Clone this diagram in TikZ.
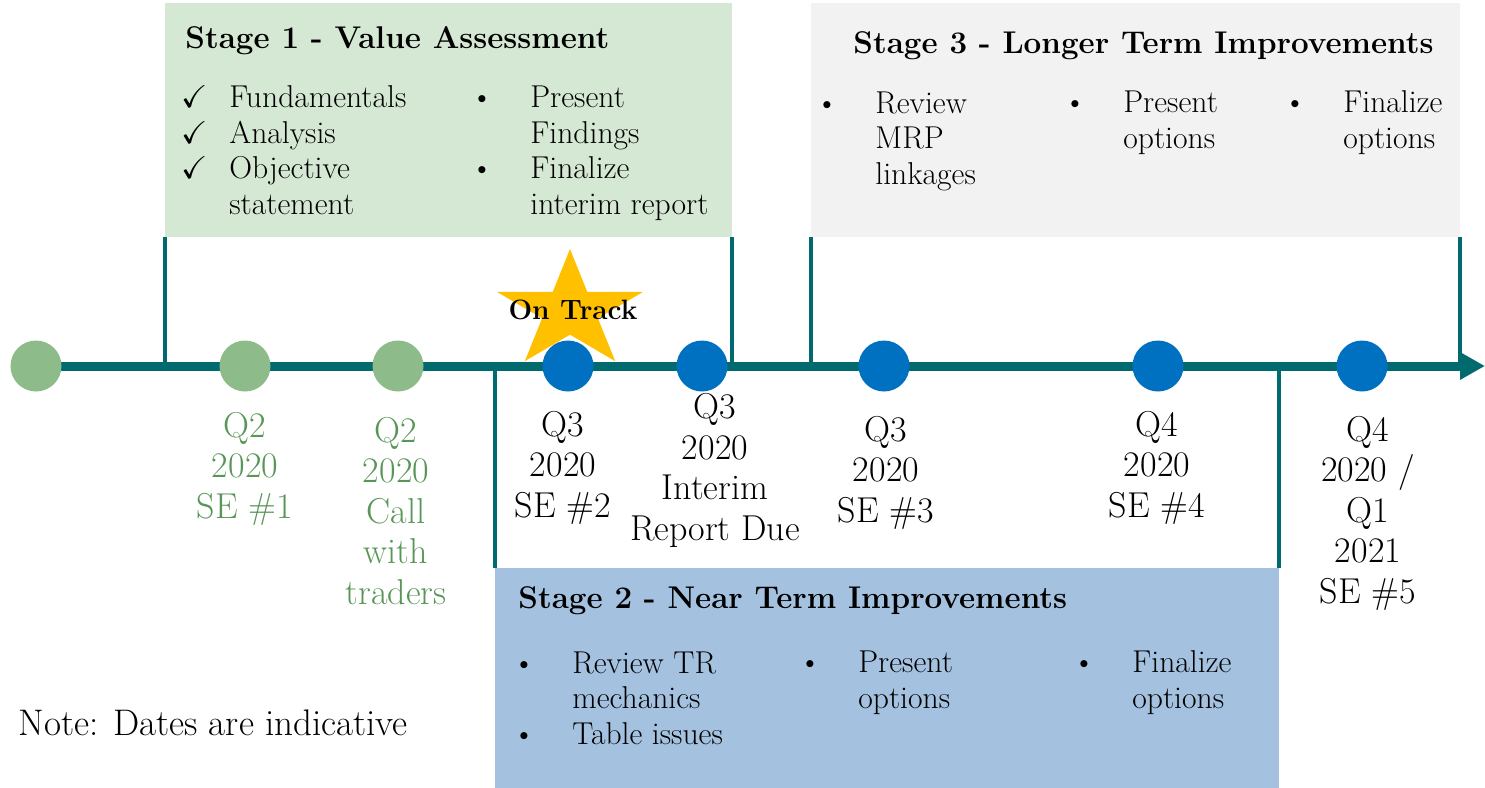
\documentclass[tikz,border=0pt]{standalone}
\usepackage{amssymb}
\usepackage{xcolor}
\usepackage{tikz}
\usetikzlibrary{calc, fit, shapes.geometric, arrows.meta}
\definecolor{lineteal}{RGB}{0,106,110}
\definecolor{dotgreen}{RGB}{141,187,138}
\definecolor{textgreen}{RGB}{88,150,88}
\definecolor{dotblue}{RGB}{0,112,192}
\definecolor{starfill}{RGB}{255,192,0}
\definecolor{stageone}{RGB}{213,232,212}
\definecolor{stagetwo}{RGB}{164,194,224}
\definecolor{stagethree}{RGB}{242,242,242}
\tikzstyle{axis}    = [line width=4.5pt, lineteal, -{Triangle[length=12.5pt,width=13pt]}]
\tikzstyle{bracket} = [line width=2pt, lineteal]
\newcommand{\chk}{\llap{$\checkmark$\hspace{11pt}}}
\newcommand{\bul}{\llap{\textbullet\hspace{18.5pt}}}

\begin{document}
\begin{tikzpicture}[
    x=0.5pt, y=-0.5pt,
    stagebox/.style={inner sep=0pt, draw=none},
    title/.style={anchor=base west, inner sep=0pt, font=\fontsize{15.7}{18}\selectfont\bfseries},
    % base of a multi-line node sits on its last line
    items/.style={anchor=base west, inner sep=0pt, align=left, font=\fontsize{15.8}{17.75}\selectfont},
    milestone/.style={circle, minimum size=25.5pt, inner sep=0pt},
    done/.style={milestone, fill=dotgreen},
    todo/.style={milestone, fill=dotblue},
    date/.style={anchor=base, inner sep=0pt, align=center, font=\fontsize{18}{20.25}\selectfont},
  ]
  \useasboundingbox (0,0) rectangle (1485,788);

  % the three stages
  \node[stagebox, fill=stageone, fit={(165,3) (732,237)}] (s1) {};
  \node[stagebox, fill=stagethree, fit={(811,3) (1460,237)}] (s3) {};
  \node[stagebox, fill=stagetwo, fit={(495,568) (1279,788)}] (s2) {};

  % timeline and brackets
  \coordinate (start) at (36,366);
  \coordinate (end) at (1485,366);
  \draw[bracket] (s1.south west) -- (s1.south west |- start);
  \draw[bracket] (s1.south east) -- (s1.south east |- start);
  \draw[bracket] (s3.south west) -- (s3.south west |- start);
  \draw[bracket] (s3.south east) -- (s3.south east |- start);
  \draw[bracket] (s2.north west) -- (s2.north west |- start);
  \draw[bracket] (s2.north east) -- (s2.north east |- start);
  \draw[axis] (start) -- (end);

  \begin{scope}[shift={(570,311)}, xscale=1.24]
    \node[star, star points=5, star point ratio=2.618, minimum size=62pt,
      inner sep=0pt, fill=starfill, transform shape] (star) at (0,0) {};
  \end{scope}

  % milestones
  \node[done] (m0) at (36,366) {};
  \node[done] (m1) at (245,366) {};
  \node[done] (m2) at (398,366) {};
  \node[todo] (m3) at (568,366) {};
  \node[todo] (m4) at (702,366) {};
  \node[todo] (m5) at (884,366) {};
  \node[todo] (m6) at (1158,366) {};
  \node[todo] (m7) at (1362,366) {};

  \node[font=\fontsize{14}{16}\selectfont\bfseries, inner sep=0pt] (ontrack) at (573,310) {On Track};

  % dates
  \node[date, text=textgreen] (d1) at (245,518) {Q2\\2020\\SE \#1};
  \node[date, text=textgreen] (d2) at (396,604) {Q2\\2020\\Call\\with\\traders};
  \node[date] (d3) at (563,517) {Q3\\2020\\SE \#2};
  \node[date] (d4) at (715,540) {Q3\\2020\\Interim\\Report Due};
  \node[date] (d5) at (886,522) {Q3\\2020\\SE \#3};
  \node[date] (d6) at (1157,517) {Q4\\2020\\SE \#4};
  \node[date] (d7) at (1368,603) {Q4\\2020 /\\Q1\\2021\\SE \#5};

  % stage texts
  \node[title] (t1) at (185,48) {Stage 1 - Value Assessment};
  \node[items] (t1a) at (229,214) {\chk Fundamentals\\\chk Analysis\\\chk Objective\\statement};
  \node[items] (t1b) at (530,214) {\bul Present\\Findings\\\bul Finalize\\interim report};

  \node[title] (t3) at (853,53) {Stage 3 - Longer Term Improvements};
  \node[items] (t3a) at (875,184) {\bul Review\\MRP\\linkages};
  \node[items] (t3b) at (1123,148) {\bul Present\\options};
  \node[items] (t3c) at (1343,148) {\bul Finalize\\options};

  \node[title] (t2) at (518,608) {Stage 2 - Near Term Improvements};
  \node[items] (t2a) at (572,744) {\bul Review TR\\mechanics\\\bul Table issues};
  \node[items] (t2b) at (858,708) {\bul Present\\options};
  \node[items] (t2c) at (1132,708) {\bul Finalize\\options};

  \node[anchor=base west, inner sep=0pt, font=\fontsize{18.5}{20}\selectfont] (note) at (18,735) {Note: Dates are indicative};
\end{tikzpicture}
\end{document}
